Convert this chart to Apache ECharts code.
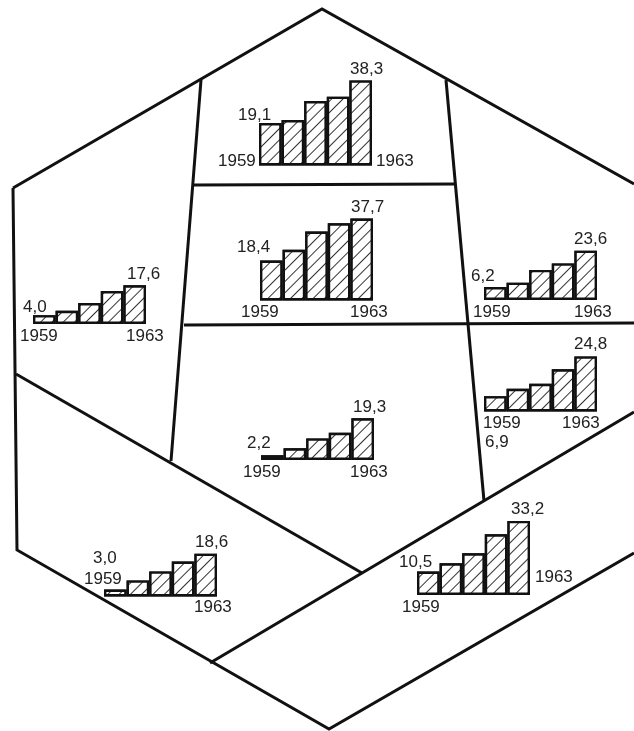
<!DOCTYPE html>
<html><head><meta charset="utf-8">
<style>html,body{margin:0;padding:0;background:#fff}#c{width:634px;height:731px}</style>
<script src="https://cdn.jsdelivr.net/npm/echarts@6/dist/echarts.min.js"></script>
</head><body><div id="c"></div>
<script>
// values, one list per region (1959..1963)
const years = ['1959','1960','1961','1962','1963'];
const topRegion      = [19.1, 20.5, 29.0, 31.0, 38.3];
const upperCentre    = [18.4, 23.3, 31.7, 35.5, 37.7];
const lowerCentre    = [2.2, 5.4, 10.0, 12.6, 19.3];
const leftRegion     = [4.0, 6.0, 9.5, 15.0, 17.6];
const upperRight     = [6.2, 8.3, 14.4, 17.5, 23.6];
const lowerRight     = [6.9, 10.2, 12.5, 19.0, 24.8];
const bottomLeft     = [3.0, 7.0, 10.9, 15.2, 18.6];
const bottomRight    = [10.5, 14.2, 18.7, 27.2, 33.2];

// layout: base = baseline y, x = left edge, scale = px per unit, label anchor points
const panels = [
 {v:topRegion,  x:259,base:165.5,scale:2.22, first:[238,115],last:[350,69], y1:[218,161],y2:[376,161]},
 {v:upperCentre,x:260,base:300.5,scale:2.175,first:[237,247],last:[351,207],y1:[241,312],y2:[350,312]},
 {v:lowerCentre,x:261,base:460,  scale:2.16, first:[247,443],last:[353,407],y1:[243,472],y2:[350,472]},
 {v:leftRegion, x:33, base:324,  scale:2.2,  first:[23,307], last:[127,274],y1:[20,336], y2:[126,336]},
 {v:upperRight, x:484,base:300,  scale:2.09, first:[471,276],last:[574,239],y1:[473,312],y2:[574,312]},
 {v:lowerRight, x:484,base:411.5,scale:2.22, first:[485,442],last:[574,344],y1:[483,423],y2:[562,423]},
 {v:bottomLeft, x:104,base:596.5,scale:2.3,  first:[93,558], last:[195,542],y1:[84,579], y2:[194,607]},
 {v:bottomRight,x:417,base:595,  scale:2.23, first:[399,562],last:[511,509],y1:[402,607],y2:[535,577]}
];
const barsWidth = 113;
const gridH = 100;

// map lines: hexagon and region borders
const mapLines = [
 [[13,188],[322,9],[634,184]],
 [[13,188],[17,550],[329,729],[634,553]],
 [[201,80],[171,461]],
 [[446,80],[484,501]],
 [[194,185],[456,184]],
 [[184,325],[634,323]],
 [[16,374],[362,573]],
 [[210,663],[634,412]]
];

const font = '"Liberation Sans",Arial,sans-serif';
const hatch = {symbol:'rect',color:'#333',backgroundColor:'#fff',dashArrayX:[1,0],dashArrayY:[1,7],rotation:-Math.PI/4,symbolSize:1};
const txt = (s,p) => ({type:'text',x:p[0],y:p[1],z:20,style:{text:s,fill:'#222',font:'17px '+font,textVerticalAlign:'middle'}});

const grid=[],xAxis=[],yAxis=[],series=[],graphic=[];
mapLines.forEach(pts=>graphic.push({type:'polyline',z:5,shape:{points:pts},style:{stroke:'#111',lineWidth:3,fill:null,lineJoin:'miter'}}));
panels.forEach((p,i)=>{
  grid.push({left:p.x,width:barsWidth,top:p.base-gridH,height:gridH,containLabel:false});
  xAxis.push({gridIndex:i,type:'category',data:years,show:false});
  yAxis.push({gridIndex:i,type:'value',min:0,max:gridH/p.scale,show:false});
  series.push({type:'bar',xAxisIndex:i,yAxisIndex:i,data:p.v,barWidth:'100%',barGap:0,z:10,
    itemStyle:{color:'#fff',borderColor:'#111',borderWidth:2.4,decal:hatch},silent:true,animation:false});
  const fmt=n=>n.toFixed(1).replace('.',',');
  graphic.push(txt(fmt(p.v[0]),p.first));
  graphic.push(txt(fmt(p.v[4]),p.last));
  graphic.push(txt(years[0],p.y1));
  graphic.push(txt(years[4],p.y2));
});
const chart=echarts.init(document.getElementById('c'),null,{renderer:'canvas'});
chart.setOption({backgroundColor:'#fff',animation:false,grid,xAxis,yAxis,series,graphic,aria:{enabled:false}});
</script></body></html>
